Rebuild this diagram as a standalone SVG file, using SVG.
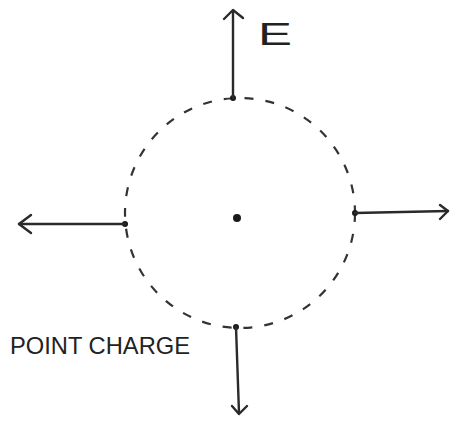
<svg xmlns="http://www.w3.org/2000/svg" width="450" height="421" viewBox="0 0 450 421">
<style>
.ln{stroke:#2a2a2a;stroke-width:2.4;fill:none;stroke-linecap:round;stroke-linejoin:round}
.dash{stroke:#333;stroke-width:2.2;fill:none;stroke-dasharray:9 12}
.dot{fill:#1a1a1a}
.lbl{font-family:"Liberation Sans",Arial,sans-serif;fill:#222}
</style>
<rect width="450" height="421" fill="#ffffff"/>
<g id="field-boundary">
<ellipse class="dash" cx="240" cy="213" rx="115" ry="115"/>
</g>
<g id="charge">
<circle class="dot" cx="237" cy="218" r="4"/>
</g>
<g id="connectors">
<g id="arrow-up">
<circle class="dot" cx="233" cy="98" r="3"/>
<path class="ln" d="M233 98 L233 11"/>
<path class="ln" d="M224 19 L233 10 L243 18"/>
</g>
<g id="arrow-left">
<circle class="dot" cx="125" cy="224" r="3"/>
<path class="ln" d="M125 224 L19 224"/>
<path class="ln" d="M31 215 L19 224 L31 233"/>
</g>
<g id="arrow-right">
<circle class="dot" cx="355" cy="213" r="3"/>
<path class="ln" d="M355 213 L448 211"/>
<path class="ln" d="M440 205 L448 211 L440 219"/>
</g>
<g id="arrow-down">
<circle class="dot" cx="236" cy="327" r="3"/>
<path class="ln" d="M236 327 L239 413"/>
<path class="ln" d="M232 406 L239 414 L247 406"/>
</g>
</g>
<g id="label-E">
<text class="lbl" x="258" y="45" font-size="31" textLength="34" lengthAdjust="spacingAndGlyphs">E</text>
</g>
<g id="label-charge">
<text class="lbl" x="10" y="354" font-size="24" textLength="180" lengthAdjust="spacingAndGlyphs">POINT CHARGE</text>
</g>
</svg>
